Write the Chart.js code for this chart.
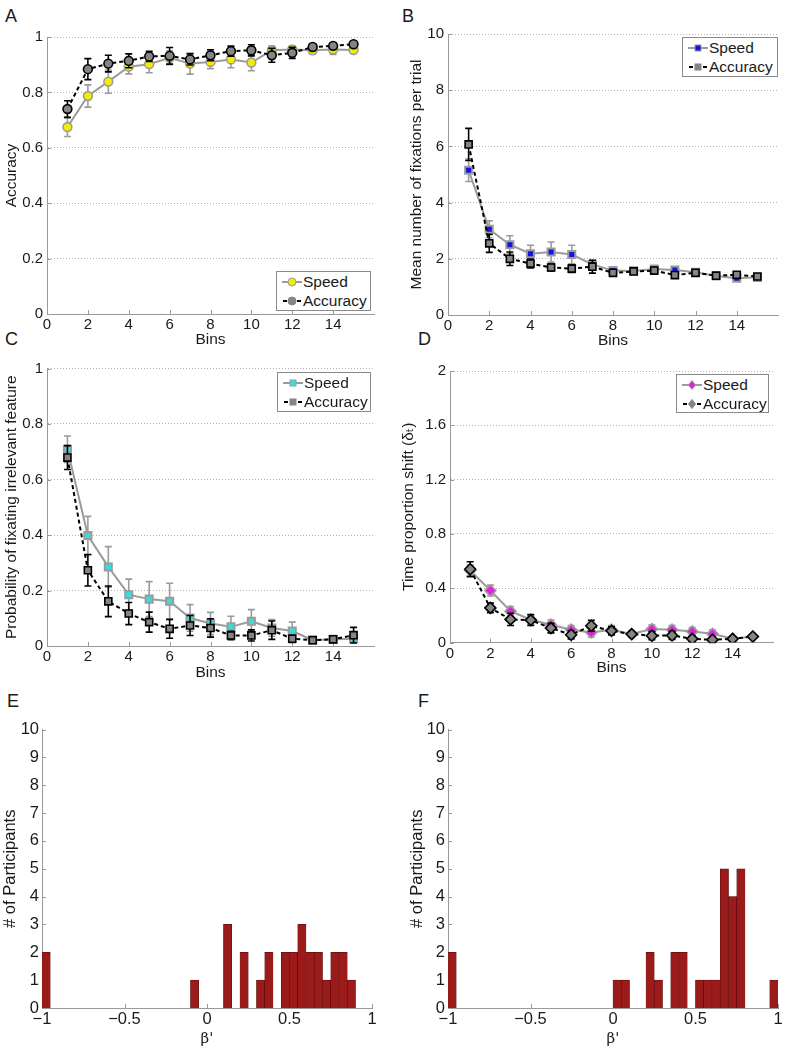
<!DOCTYPE html>
<html><head><meta charset="utf-8">
<script src="https://cdn.jsdelivr.net/npm/chart.js@4.4.0/dist/chart.umd.min.js"></script>
<style>
html,body{margin:0;padding:0;background:#fff;}
body{width:785px;height:1049px;position:relative;overflow:hidden;font-family:"Liberation Sans",Arial,Helvetica,"DejaVu Sans",sans-serif;color:#1a1a1a;}
canvas{position:absolute;}
.letter{position:absolute;font-size:18px;line-height:18px;}
.legend{position:absolute;border:1px solid #8a8a8a;background:#fff;box-sizing:border-box;font-size:15.5px;}
.legend .row{position:absolute;left:0;height:20px;width:100%;}
.legend svg{position:absolute;left:3px;top:2px;}
.legend span{position:absolute;left:26px;top:0;line-height:20px;white-space:nowrap;}
</style></head><body>
<div class="letter" style="left:5px;top:7px">A</div>
<div class="letter" style="left:402px;top:7px">B</div>
<div class="letter" style="left:5px;top:330px">C</div>
<div class="letter" style="left:418px;top:330px">D</div>
<div class="letter" style="left:7px;top:692px">E</div>
<div class="letter" style="left:418px;top:692px">F</div>
<script>
// ---------------- data ----------------
const bins = [1, 2, 3, 4, 5, 6, 7, 8, 9, 10, 11, 12, 13, 14, 15];
const binTicks = [0, 2, 4, 6, 8, 10, 12, 14];

// A: Accuracy
const accSpeed    = [0.675, 0.787, 0.839, 0.893, 0.902, 0.925, 0.904, 0.91, 0.919, 0.908, 0.952, 0.955, 0.952, 0.955, 0.953];
const accSpeedErr = [0.034, 0.04, 0.042, 0.026, 0.031, 0.025, 0.038, 0.024, 0.03, 0.03, 0.015, 0.012, 0.012, 0.018, 0.01];
const accAcc      = [0.74, 0.884, 0.904, 0.914, 0.93, 0.932, 0.919, 0.934, 0.949, 0.952, 0.934, 0.943, 0.964, 0.968, 0.974];
const accAccErr   = [0.03, 0.038, 0.03, 0.025, 0.018, 0.03, 0.02, 0.02, 0.018, 0.02, 0.025, 0.02, 0.01, 0.01, 0.008];
const accYTicks   = [0, 0.2, 0.4, 0.6, 0.8, 1];

// B: Mean number of fixations per trial
const fixSpeed    = [5.15, 3.05, 2.5, 2.18, 2.24, 2.15, 1.8, 1.58, 1.57, 1.64, 1.6, 1.52, 1.39, 1.31, 1.34];
const fixSpeedErr = [0.4, 0.3, 0.32, 0.3, 0.36, 0.33, 0.15, 0.08, 0.08, 0.1, 0.1, 0.1, 0.06, 0.06, 0.06];
const fixAcc      = [6.07, 2.55, 2.0, 1.83, 1.69, 1.65, 1.72, 1.5, 1.55, 1.58, 1.42, 1.5, 1.4, 1.43, 1.37];
const fixAccErr   = [0.57, 0.32, 0.24, 0.16, 0.12, 0.14, 0.23, 0.08, 0.08, 0.1, 0.08, 0.07, 0.05, 0.05, 0.05];
const fixYTicks   = [0, 2, 4, 6, 8, 10];

// C: Probability of fixating irrelevant feature
const irrSpeed    = [0.709, 0.398, 0.285, 0.185, 0.169, 0.161, 0.101, 0.081, 0.069, 0.089, 0.065, 0.054, 0.021, 0.024, 0.026];
const irrSpeedErr = [0.048, 0.069, 0.073, 0.056, 0.063, 0.065, 0.048, 0.04, 0.038, 0.042, 0.03, 0.032, 0.005, 0.005, 0.01];
const irrAcc      = [0.679, 0.273, 0.161, 0.117, 0.086, 0.062, 0.074, 0.065, 0.038, 0.038, 0.057, 0.026, 0.021, 0.024, 0.039];
const irrAccErr   = [0.043, 0.057, 0.055, 0.04, 0.036, 0.034, 0.036, 0.033, 0.015, 0.02, 0.033, 0.013, 0.005, 0.005, 0.028];
const irrYTicks   = [0, 0.2, 0.4, 0.6, 0.8, 1];

// D: Time proportion shift
const shiftSpeed    = [0.53, 0.383, 0.23, 0.168, 0.131, 0.094, 0.074, 0.094, 0.062, 0.099, 0.094, 0.081, 0.064, 0.027, 0.044];
const shiftSpeedErr = [0.04, 0.04, 0.035, 0.035, 0.035, 0.03, 0.035, 0.03, 0.02, 0.03, 0.03, 0.03, 0.03, 0.01, 0.015];
const shiftAcc      = [0.54, 0.255, 0.17, 0.165, 0.106, 0.057, 0.123, 0.086, 0.062, 0.05, 0.052, 0.027, 0.02, 0.027, 0.044];
const shiftAccErr   = [0.055, 0.035, 0.045, 0.04, 0.035, 0.03, 0.04, 0.03, 0.02, 0.03, 0.03, 0.02, 0.02, 0.015, 0.015];
const shiftYTicks   = [0, 0.4, 0.8, 1.2, 1.6, 2];

// E, F: histograms of beta'
const betaCenters = [-0.975, -0.925, -0.875, -0.825, -0.775, -0.725, -0.675, -0.625, -0.575, -0.525,
                     -0.475, -0.425, -0.375, -0.325, -0.275, -0.225, -0.175, -0.125, -0.075, -0.025,
                      0.025,  0.075,  0.125,  0.175,  0.225,  0.275,  0.325,  0.375,  0.425,  0.475,
                      0.525,  0.575,  0.625,  0.675,  0.725,  0.775,  0.825,  0.875,  0.925,  0.975];
const countsE = [2, 0, 0, 0, 0, 0, 0, 0, 0, 0,
                 0, 0, 0, 0, 0, 0, 0, 0, 1, 0,
                 0, 0, 3, 0, 2, 0, 1, 2, 0, 2,
                 2, 3, 2, 2, 1, 2, 2, 1, 0, 0];
const countsF = [2, 0, 0, 0, 0, 0, 0, 0, 0, 0,
                 0, 0, 0, 0, 0, 0, 0, 0, 0, 0,
                 1, 1, 0, 0, 2, 1, 0, 2, 2, 0,
                 1, 1, 1, 5, 4, 5, 0, 0, 0, 1];
const betaTicks  = [-1, -0.5, 0, 0.5, 1];
const countTicks = [0, 1, 2, 3, 4, 5, 6, 7, 8, 9, 10];

// ---------------- style ----------------
const FONT = '"Liberation Sans", Arial, Helvetica, "DejaVu Sans", sans-serif';
const TEXT = '#1a1a1a';
const AXIS = '#9a9a9a';
const GRID = '#b4b4b4';
const SPEED_GRAY = '#9b9b9b';
const ACC_FILL = '#858585';
Chart.defaults.font.family = FONT;
Chart.defaults.font.size = 15;
Chart.defaults.color = TEXT;

const fmt = v => String(Math.round(v * 100) / 100).replace('-', '\u2212');

const errorBars = {
  id: 'errorBars',
  beforeDatasetDraw(chart, args) {
    const ds = chart.data.datasets[args.index];
    if (!ds.errors) return;
    const {ctx, scales: {x, y}} = chart;
    ctx.save();
    ctx.strokeStyle = ds.errorColor;
    ctx.lineWidth = 1.6;
    ctx.setLineDash([]);
    ctx.beginPath();
    ds.data.forEach((p, i) => {
      const e = ds.errors[i];
      const px = x.getPixelForValue(p.x);
      const y1 = y.getPixelForValue(p.y - e), y2 = y.getPixelForValue(p.y + e);
      ctx.moveTo(px, y1); ctx.lineTo(px, y2);
      ctx.moveTo(px - 3.5, y1); ctx.lineTo(px + 3.5, y1);
      ctx.moveTo(px - 3.5, y2); ctx.lineTo(px + 3.5, y2);
    });
    ctx.stroke();
    ctx.restore();
  }
};

const inwardTicks = {
  id: 'inwardTicks',
  beforeDatasetsDraw(chart) {
    const {ctx, chartArea: a, scales: {x, y}} = chart;
    ctx.save();
    ctx.strokeStyle = AXIS; ctx.lineWidth = 1; ctx.setLineDash([]);
    ctx.beginPath();
    x.ticks.forEach(t => {
      const px = Math.round(x.getPixelForValue(t.value)) + 0.5;
      ctx.moveTo(px, a.bottom); ctx.lineTo(px, a.bottom - 4);
    });
    y.ticks.forEach(t => {
      const py = Math.round(y.getPixelForValue(t.value)) + 0.5;
      ctx.moveTo(a.left, py); ctx.lineTo(a.left + 4, py);
    });
    ctx.stroke();
    ctx.restore();
  }
};

function makeCanvas([x, y, w, h]) {
  const c = document.createElement('canvas');
  c.width = w; c.height = h;
  c.style.left = x + 'px'; c.style.top = y + 'px';
  c.style.width = w + 'px'; c.style.height = h + 'px';
  document.body.appendChild(c);
  return c;
}

function geometry(g, titleSize) {
  const [cx, cy, cw, ch] = g.canvas;
  const [l, t, r, b] = g.area;
  const half = titleSize * 0.6;
  return {
    padding: {left: 0, top: t - cy, right: cx + cw - r, bottom: 0},
    yWidth: l - cx,
    xHeight: cy + ch - b,
    yTitlePad: g.yTitleX - cx - half,
    xTitlePad: cy + ch - g.xTitleY - half
  };
}

function xy(xs, ys) { return xs.map((v, i) => ({x: v, y: ys[i]})); }

function baseScales(G, xOpts, yOpts, titleSize) {
  return {
    x: Object.assign({
      type: 'linear', offset: false,
      afterFit: s => { s.height = G.xHeight; },
      grid: {display: false, drawTicks: false, offset: false},
      border: {display: true, color: AXIS, width: 1},
      title: {display: true, padding: {top: 0, bottom: G.xTitlePad}, font: {size: titleSize}, color: TEXT}
    }, xOpts),
    y: Object.assign({
      type: 'linear',
      afterFit: s => { s.width = G.yWidth; },
      title: {display: true, padding: {top: G.yTitlePad, bottom: 0}, font: {size: titleSize}, color: TEXT}
    }, yOpts)
  };
}

function linePanel(g, spec) {
  const TS = 15.5, TK = 15;
  const G = geometry(g, TS);
  const canvas = makeCanvas(g.canvas);
  const xOpts = {
    min: 0, max: 16,
    afterBuildTicks: s => { s.ticks = binTicks.map(v => ({value: v})); },
    ticks: {padding: 2, color: TEXT, font: {size: TK}, maxRotation: 0, callback: fmt}
  };
  const yOpts = {
    min: 0, max: spec.ymax,
    afterBuildTicks: s => { s.ticks = spec.yTicks.map(v => ({value: v})); },
    ticks: {padding: 4, color: TEXT, font: {size: TK}, callback: fmt},
    grid: {display: true, color: GRID, lineWidth: 1, drawTicks: false},
    border: {display: true, color: AXIS, width: 1, dash: [1, 2]}
  };
  const scales = baseScales(G, xOpts, yOpts, TS);
  scales.x.title.text = 'Bins';
  scales.y.title.text = spec.yTitle;
  new Chart(canvas, {
    type: 'line',
    data: {datasets: [
      {
        label: 'Speed', data: xy(bins, spec.speed), errors: spec.speedErr, errorColor: SPEED_GRAY,
        borderColor: SPEED_GRAY, borderWidth: 2, tension: 0, fill: false,
        pointStyle: spec.marker, pointRadius: spec.radius, pointBackgroundColor: spec.color,
        pointBorderColor: SPEED_GRAY, pointBorderWidth: spec.pbw, order: 1
      },
      {
        label: 'Accuracy', data: xy(bins, spec.acc), errors: spec.accErr, errorColor: '#000',
        borderColor: '#000', borderWidth: 2, borderDash: [4, 3], tension: 0, fill: false,
        pointStyle: spec.marker, pointRadius: spec.radius, pointBackgroundColor: ACC_FILL,
        pointBorderColor: '#000', pointBorderWidth: 1.6, order: 0
      }
    ]},
    options: {
      responsive: false, animation: false, devicePixelRatio: 1,
      layout: {padding: G.padding},
      plugins: {legend: {display: false}, tooltip: {enabled: false}},
      scales
    },
    plugins: [errorBars, inwardTicks]
  });
}

function histPanel(g, counts) {
  const TS = 16.5, TK = 16.5;
  const G = geometry(g, TS);
  const canvas = makeCanvas(g.canvas);
  const xOpts = {
    min: -1, max: 1,
    afterBuildTicks: s => { s.ticks = betaTicks.map(v => ({value: v})); },
    ticks: {padding: 2, color: TEXT, font: {size: TK}, maxRotation: 0, callback: fmt}
  };
  const yOpts = {
    min: 0, max: 10,
    afterBuildTicks: s => { s.ticks = countTicks.map(v => ({value: v})); },
    ticks: {padding: 3, color: TEXT, font: {size: TK}, callback: fmt},
    grid: {display: false, drawTicks: false},
    border: {display: true, color: AXIS, width: 1}
  };
  const scales = baseScales(G, xOpts, yOpts, TS);
  scales.x.title.text = "\u03B2'";
  scales.x.title.font = {size: 15, family: '"DejaVu Serif", "Liberation Serif", serif'};
  scales.y.title.text = '# of Participants';
  new Chart(canvas, {
    type: 'bar',
    data: {datasets: [{
      data: xy(betaCenters, counts),
      backgroundColor: '#9b1a1a', borderColor: '#4e0808', borderWidth: 0.5,
      borderSkipped: 'start', barPercentage: 1, categoryPercentage: 1
    }]},
    options: {
      responsive: false, animation: false, devicePixelRatio: 1,
      layout: {padding: G.padding},
      plugins: {legend: {display: false}, tooltip: {enabled: false}},
      scales
    },
    plugins: [inwardTicks]
  });
}

// ---------------- legends (HTML) ----------------
function markerSvg(shape, fill, stroke) {
  if (shape === 'circle') return `<circle cx="12" cy="8" r="4" fill="${fill}" stroke="${stroke}" stroke-width="1"/>`;
  if (shape === 'rect') return `<rect x="9" y="5" width="6" height="6" fill="${fill}" stroke="${stroke}" stroke-width="1"/>`;
  return `<polygon points="12,3.5 15.5,8 12,12.5 8.5,8" fill="${fill}" stroke="${stroke}" stroke-width="1"/>`;
}
function legend(box, shape, speedColor) {
  const [l, t, w, h] = box;
  const d = document.createElement('div');
  d.className = 'legend';
  d.style.left = l + 'px'; d.style.top = t + 'px'; d.style.width = w + 'px'; d.style.height = h + 'px';
  const rowSpeed = `<div class="row" style="top:0px"><svg width="24" height="16">
      <line x1="2" y1="8" x2="22" y2="8" stroke="${SPEED_GRAY}" stroke-width="2"/>${markerSvg(shape, speedColor, SPEED_GRAY)}</svg><span>Speed</span></div>`;
  const rowAcc = `<div class="row" style="top:19px"><svg width="24" height="16">
      <line x1="3" y1="8" x2="7" y2="8" stroke="#000" stroke-width="2"/>
      <line x1="17" y1="8" x2="21" y2="8" stroke="#000" stroke-width="2"/>${markerSvg(shape, ACC_FILL, ACC_FILL)}</svg><span>Accuracy</span></div>`;
  d.innerHTML = rowSpeed + rowAcc;
  document.body.appendChild(d);
}

// ---------------- panels ----------------
linePanel({canvas: [0, 0, 390, 350], area: [47, 37, 374, 314], yTitleX: 12, xTitleY: 340},
  {speed: accSpeed, speedErr: accSpeedErr, acc: accAcc, accErr: accAccErr, ymax: 1, yTicks: accYTicks,
   yTitle: 'Accuracy', marker: 'circle', radius: 4.4, pbw: 1.6, color: '#f2ee00'});
linePanel({canvas: [390, 0, 395, 350], area: [448, 34, 781, 315], yTitleX: 417, xTitleY: 341},
  {speed: fixSpeed, speedErr: fixSpeedErr, acc: fixAcc, accErr: fixAccErr, ymax: 10, yTicks: fixYTicks,
   yTitle: 'Mean number of fixations per trial', marker: 'rect', radius: 5, pbw: 2, color: '#1414e6'});
linePanel({canvas: [0, 350, 390, 340], area: [47, 368.5, 374, 646], yTitleX: 12, xTitleY: 672.5},
  {speed: irrSpeed, speedErr: irrSpeedErr, acc: irrAcc, accErr: irrAccErr, ymax: 1, yTicks: irrYTicks,
   yTitle: 'Probability of fixating irrelevant feature', marker: 'rect', radius: 5, pbw: 2, color: '#33e0e0'});
linePanel({canvas: [390, 350, 395, 340], area: [450, 371, 773, 642.5], yTitleX: 409, xTitleY: 668},
  {speed: shiftSpeed, speedErr: shiftSpeedErr, acc: shiftAcc, accErr: shiftAccErr, ymax: 2, yTicks: shiftYTicks,
   yTitle: 'Time proportion shift (\u03B4\u209C)', marker: 'rectRot', radius: 5.5, pbw: 1.6, color: '#e020e0'});
histPanel({canvas: [0, 700, 390, 349], area: [42, 729.5, 372, 1008], yTitleX: 10, xTitleY: 1038}, countsE);
histPanel({canvas: [390, 700, 395, 349], area: [448, 729.5, 778, 1008], yTitleX: 417, xTitleY: 1038}, countsF);

legend([276, 271, 95, 40], 'circle', '#f2ee00');
legend([682, 37, 96, 40], 'rect', '#1414e6');
legend([277, 372, 94, 40], 'rect', '#33e0e0');
legend([676, 374, 93, 39], 'rectRot', '#e020e0');
</script>
</body></html>
